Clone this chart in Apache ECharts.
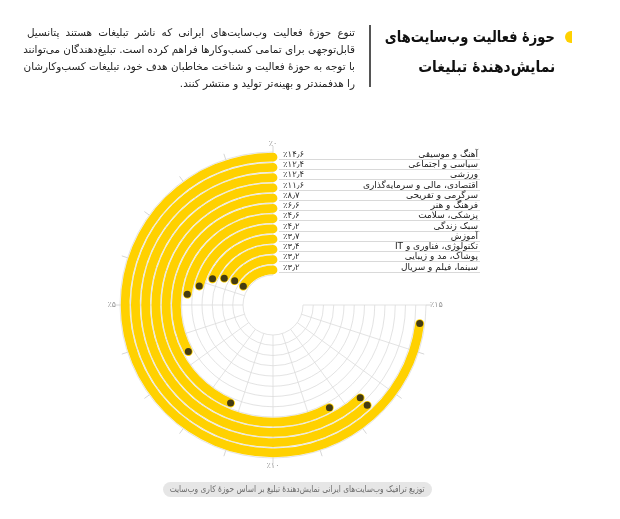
<!DOCTYPE html>
<html>
<head>
<meta charset="utf-8">
<script src="https://cdn.jsdelivr.net/npm/echarts@6/dist/echarts.min.js"></script>
<style>
html,body{margin:0;padding:0;background:#fff;}
#wrap{position:relative;width:620px;height:519px;overflow:hidden;background:#fff;}
#chart{position:absolute;left:0;top:0;width:620px;height:519px;direction:rtl;}
.title{position:absolute;right:65px;top:22px;font-family:"DejaVu Sans",sans-serif;font-weight:bold;font-size:16px;line-height:30px;direction:rtl;text-align:right;color:#111;}
.title span{display:inline-block;white-space:nowrap;transform-origin:100% 50%;}
.marker{position:absolute;left:565px;top:31px;width:7px;height:12px;background:#FFD100;border-radius:7px 0 0 7px;}
.divider{position:absolute;left:369px;top:25px;width:1.5px;height:62px;background:#555;}
.para{position:absolute;left:27px;top:24px;width:328px;font-family:"DejaVu Sans",sans-serif;font-size:10.4px;line-height:17px;color:#222;direction:rtl;}
.para div{white-space:nowrap;text-align:justify;text-align-last:justify;}
.para div.last{text-align:right;text-align-last:right;}
.caption{position:absolute;left:163px;top:482px;width:269px;height:15px;border-radius:8px;background:#e6e6e6;display:flex;justify-content:center;align-items:center;font-family:"DejaVu Sans",sans-serif;font-size:9px;line-height:15px;color:#6b6b6b;direction:rtl;}
.caption span{display:inline-block;flex-shrink:0;white-space:nowrap;transform-origin:50% 50%;}
</style>
</head>
<body>
<div id="wrap">
  <div id="chart"></div>
  <div class="marker"></div>
  <div class="title"><span data-w="170">حوزهٔ فعالیت وب‌سایت‌های</span><br><span data-w="137">نمایش‌دهندهٔ تبلیغات</span></div>
  <div class="divider"></div>
  <div class="para">
    <div>تنوع حوزهٔ فعالیت وب‌سایت‌های ایرانی که ناشر تبلیغات هستند پتانسیل</div>
    <div>قابل‌توجهی برای تمامی کسب‌وکارها فراهم کرده است. تبلیغ‌دهندگان می‌توانند</div>
    <div>با توجه به حوزهٔ فعالیت و شناخت مخاطبان هدف خود، تبلیغات کسب‌وکارشان</div>
    <div class="last">را هدفمندتر و بهینه‌تر تولید و منتشر کنند.</div>
  </div>
  <div class="caption"><span data-w="255">توزیع ترافیک وب‌سایت‌های ایرانی نمایش‌دهندهٔ تبلیغ بر اساس حوزهٔ کاری وب‌سایت</span></div>
</div>
<script>
// ---- data ----
const categories = [
  'آهنگ و موسیقی',
  'سیاسی و اجتماعی',
  'ورزشی',
  'اقتصادی، مالی و سرمایه‌گذاری',
  'سرگرمی و تفریحی',
  'فرهنگ و هنر',
  'پزشکی، سلامت',
  'سبک زندگی',
  'آموزش',
  'تکنولوژی، فناوری و IT',
  'پوشاک، مد و زیبایی',
  'سینما، فیلم و سریال'
];
const values = [14.6, 12.4, 12.4, 11.6, 8.7, 6.6, 4.6, 4.2, 3.7, 3.4, 3.2, 3.2];
const angleLabelValues = [0, 5, 10, 15];

// ---- helpers ----
const faDigits = s => String(s).replace(/\d/g, d => '۰۱۲۳۴۵۶۷۸۹'[+d]).replace('.', '٫');
const pct = v => '٪' + faDigits(v);

// fit text spans horizontally to the reference widths
document.querySelectorAll('[data-w]').forEach(el => {
  const w = el.getBoundingClientRect().width;
  const target = +el.dataset.w;
  if (w > 0) el.style.transform = 'scaleX(' + (target / w).toFixed(3) + ')';
});

// ---- layout ----
const CX = 273, CY = 305, R0 = 30, R1 = 153;
const N = categories.length;
const band = (R1 - R0) / N;
const lineTop = CY - R1 + band / 2 + 2;
const lineBottom = CY - R0 - band / 2 + 2;

const angleCommon = {
  type: 'value', min: 0, max: 15, interval: 1,
  startAngle: 90, endAngle: 360, clockwise: false
};

const chart = echarts.init(document.getElementById('chart'), null, {renderer: 'canvas'});
const option = {
  animation: false,
  textStyle: {fontFamily: 'DejaVu Sans'},
  polar: [
    {center: [CX, CY], radius: [R0, R1]},
    {center: [CX, CY], radius: [R0, R1]}
  ],
  angleAxis: [
    Object.assign({}, angleCommon, {
      polarIndex: 0,
      axisLine: {show: false},
      axisTick: {show: true, length: 6, lineStyle: {color: '#d6d6d6'}},
      axisLabel: {margin: 4, color: '#9a9a9a', fontSize: 8,
        formatter: v => angleLabelValues.includes(v) ? pct(v) : ''},
      splitLine: {show: true, lineStyle: {color: '#dcdcdc', width: 0.8}}
    }),
    Object.assign({}, angleCommon, {
      polarIndex: 1,
      axisLine: {show: false}, axisTick: {show: false}, axisLabel: {show: false},
      splitLine: {show: false}
    })
  ],
  radiusAxis: [
    {
      polarIndex: 0, type: 'category', data: categories, inverse: true,
      axisLine: {show: false}, axisTick: {show: false}, axisLabel: {show: false},
      splitLine: {show: false}
    },
    {
      polarIndex: 1, type: 'value', min: 0, max: N, interval: 1,
      axisLine: {show: false}, axisTick: {show: false}, axisLabel: {show: false},
      splitLine: {show: true, lineStyle: {color: '#dcdcdc', width: 0.8}}
    }
  ],
  grid: {left: 279, right: 140, top: lineTop, bottom: 519 - lineBottom, containLabel: false},
  xAxis: {type: 'value', min: 0, max: 1, show: false},
  yAxis: [
    {
      type: 'category', data: categories, inverse: true, boundaryGap: false, position: 'left',
      axisLine: {show: false}, axisTick: {show: false},
      splitLine: {show: true, interval: 0, lineStyle: {color: '#cfcfcf', width: 0.8}},
      axisLabel: {inside: true, interval: 0, margin: 4, verticalAlign: 'bottom', color: '#333', fontSize: 8.5,
        formatter: (v, i) => pct(values[i])}
    },
    {
      type: 'category', data: categories, inverse: true, boundaryGap: false, position: 'right',
      axisLine: {show: false}, axisTick: {show: false}, splitLine: {show: false},
      axisLabel: {inside: true, interval: 0, margin: 2, verticalAlign: 'bottom', color: '#1a1a1a', fontSize: 9}
    }
  ],
  series: [
    {
      type: 'bar', coordinateSystem: 'polar', polarIndex: 0, data: values,
      barWidth: 8.8, roundCap: true,
      itemStyle: {color: '#FFD100'}, z: 2
    },
    {
      type: 'scatter', coordinateSystem: 'polar', polarIndex: 0,
      data: values.map((v, i) => [i, v]),
      symbolSize: 7, itemStyle: {color: '#151515'}, z: 3
    }
  ]
};
chart.setOption(option);
</script>
</body>
</html>
